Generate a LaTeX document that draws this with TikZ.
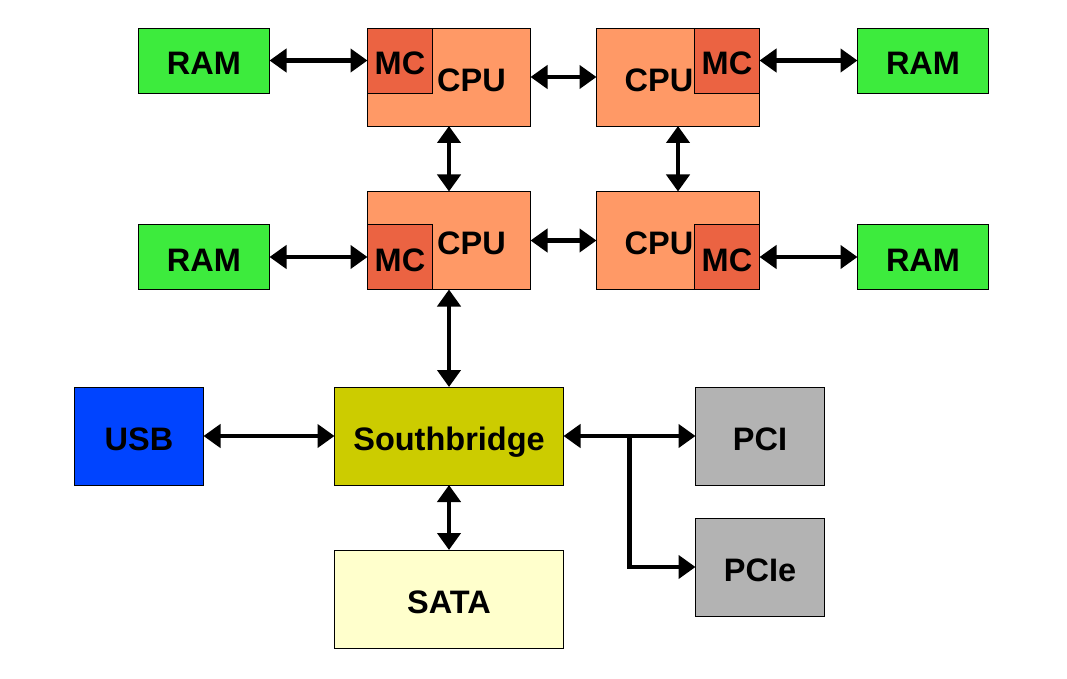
\documentclass[tikz,border=0pt]{standalone}
\usepackage{fontspec}
\setmainfont{Liberation Sans}
\usetikzlibrary{positioning,arrows.meta,calc}
\definecolor{ramgreen}{RGB}{61,235,61}
\definecolor{cpuorange}{RGB}{255,153,102}
\definecolor{mcred}{RGB}{235,99,66}
\definecolor{sbyellow}{RGB}{204,204,0}
\definecolor{usbblue}{RGB}{0,68,255}
\definecolor{pcigray}{RGB}{179,179,179}
\definecolor{satayellow}{RGB}{255,255,204}

\begin{document}
\begin{tikzpicture}[x=1pt,y=-1pt,
  txt/.style={font=\bfseries\fontsize{32.5}{36}\selectfont,text height=28.3pt,text depth=0pt},
  blk/.style={draw,line width=.8pt,inner sep=0pt,outer sep=0pt,txt},
  ram/.style={blk,fill=ramgreen,minimum width=131pt,minimum height=65pt},
  cpu/.style={blk,fill=cpuorange,minimum width=163pt,minimum height=98pt},
  mc/.style={blk,fill=mcred,minimum width=65pt,minimum height=65pt},
  io/.style={blk,minimum width=129pt,minimum height=98pt},
  hub/.style={blk,minimum width=229pt,minimum height=98pt},
  lbl/.style={inner sep=0pt,txt},
  bus/.style={line width=4.5pt,{Triangle[length=17pt,width=23pt]}-{Triangle[length=17pt,width=23pt]}},
  feed/.style={line width=4.5pt,-{Triangle[length=17pt,width=23pt]}}]
\useasboundingbox (0,0) rectangle (1067,679);

% processors
\node (cpuTL)[cpu] at (449,77) {};
\node (cpuTR)[cpu] at (678,77) {};
\node (cpuBL)[cpu] at (449,240.5) {};
\node (cpuBR)[cpu] at (678,240.5) {};
\node (mcTL)[mc,anchor=north west] at (cpuTL.north west) {MC};
\node (mcTR)[mc,anchor=north east] at (cpuTR.north east) {MC};
\node (mcBL)[mc,anchor=south west] at (cpuBL.south west) {MC};
\node (mcBR)[mc,anchor=south east] at (cpuBR.south east) {MC};
\node (lblTL)[lbl] at (471.5,77.5) {CPU};
\node (lblTR)[lbl] at (659,77.5) {CPU};
\node (lblBL)[lbl] at (471.5,240) {CPU};
\node (lblBR)[lbl] at (659,240) {CPU};

% memory
\node (ramTL)[ram,left=98pt of mcTL] {RAM};
\node (ramTR)[ram,right=98pt of mcTR] {RAM};
\node (ramBL)[ram,left=98pt of mcBL] {RAM};
\node (ramBR)[ram,right=98pt of mcBR] {RAM};

% i/o
\node (sb)[hub,fill=sbyellow] at (449,436) {Southbridge};
\node (usb)[io,fill=usbblue,left=131pt of sb] {USB};
\node (pci)[io,fill=pcigray,right=132pt of sb] {PCI};
\node (pcie)[io,fill=pcigray,below=33pt of pci] {PCIe};
\node (sata)[hub,fill=satayellow,below=65pt of sb] {SATA};

\foreach \a/\b in {ramTL.east/mcTL.west,mcTR.east/ramTR.west,ramBL.east/mcBL.west,mcBR.east/ramBR.west,
  cpuTL.east/cpuTR.west,cpuBL.east/cpuBR.west,cpuTL.south/cpuBL.north,cpuTR.south/cpuBR.north,
  cpuBL.south/sb.north,usb.east/sb.west,sb.south/sata.north,sb.east/pci.west}
  \draw[bus] (\a) -- (\b);
\coordinate (brn) at ($(sb.east)!.5!(pci.west)$);
\draw[feed] (brn) |- (pcie.west);
\end{tikzpicture}
\end{document}
